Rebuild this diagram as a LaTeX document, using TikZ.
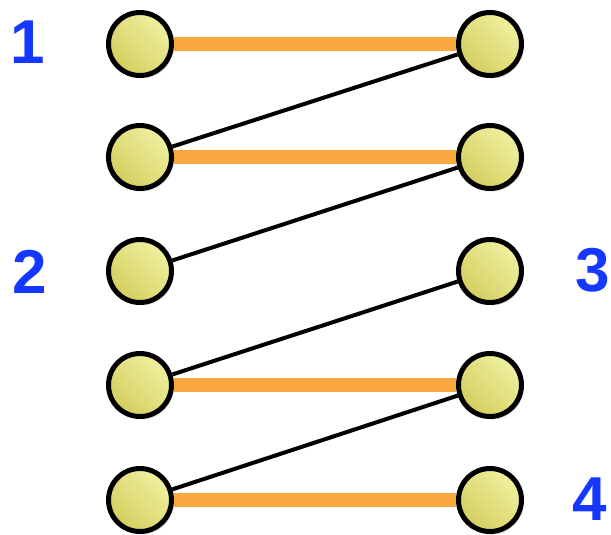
\documentclass[tikz,border=0pt]{standalone}
\usepackage{fontspec}
\setmainfont{Liberation Sans}
\usetikzlibrary{shadows}
\usetikzlibrary{backgrounds}

\definecolor{ballhi}{HTML}{F0F0A0}
\definecolor{balllo}{HTML}{D4CE5E}
\definecolor{matchline}{HTML}{F9A840}
\definecolor{numblue}{HTML}{1438FF}

\tikzset{
  ball/.style={circle, draw=black, line width=5pt, minimum size=63pt, inner sep=0pt,
    top color=ballhi, bottom color=balllo, shading angle=-45,
    drop shadow={opacity=0.25, shadow xshift=2pt, shadow yshift=-3pt}},
  matched/.style={line width=14pt, matchline},
  free/.style={line width=4pt, black},
  num/.style={text=numblue, font=\fontsize{62}{62}\selectfont\bfseries, inner sep=0pt}
}

\begin{document}
\begin{tikzpicture}[x=1pt, y=-1pt]
      \useasboundingbox (0,0) rectangle (611,535);
      \foreach \i/\y in {1/44, 2/157, 3/271, 4/385, 5/500} {
        \node [ball] (L\i) at (140,\y) {};
        \node [ball] (R\i) at (490,\y) {};
      }

      \begin{scope}[on background layer]
        \draw [matched] (L1) -- (R1);
        \draw [matched] (L2) -- (R2);
        \draw [matched] (L4) -- (R4);
        \draw [matched] (L5) -- (R5);
        \draw [free] (L2) -- (R1);
        \draw [free] (L3) -- (R2);
        \draw [free] (L4) -- (R3);
        \draw [free] (L5) -- (R4);
      \end{scope}

      \node [num] (n1) at (28,42) {1};
      \node [num] (n2) at (30,272) {2};
      \node [num] (n3) at (593,270) {3};
      \node [num] (n4) at (590,499) {4};
    \end{tikzpicture}
\end{document}
